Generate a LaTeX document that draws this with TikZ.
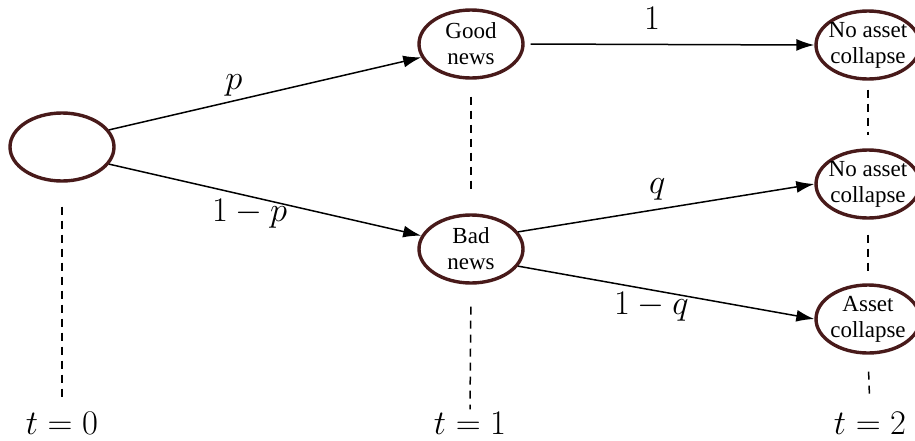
\documentclass[tikz,border=0pt]{standalone}
\usepackage{fontspec}
\newfontfamily\nodefont{Liberation Serif}
\usetikzlibrary{shapes.geometric,arrows.meta}
\definecolor{nodebrown}{RGB}{72,26,26}
\tikzset{
  state/.style={ellipse, draw=nodebrown, line width=1.7pt, minimum width=52pt, minimum height=34pt,
    inner xsep=-2pt, inner ysep=0pt, align=center, font=\nodefont\fontsize{11.5}{13}\selectfont},
  arr/.style={line width=0.75pt, -{Latex[length=9pt,width=6pt]}},
  dline/.style={line width=0.75pt, dash pattern=on 4pt off 3pt},
  lab/.style={font=\fontsize{16.5}{20}\selectfont, inner sep=0pt},
  tlab/.style={font=\fontsize{16.5}{20}\selectfont, inner sep=0pt, anchor=base}
}
\begin{document}
\begin{tikzpicture}[x=0.5pt, y=-0.5pt]
\useasboundingbox (0,0) rectangle (915,440);
\node[state] (root) at (62,147) {};
\node[state] (good) at (471,44) {Good\\news};
\node[state] (bad) at (471,249) {Bad\\news};
\node[state] (na1) at (868,45) {No asset\\collapse};
\node[state] (na2) at (868,184) {No asset\\collapse};
\node[state] (ac) at (868,319) {Asset\\collapse};
\node[tlab] (t0) at (62,434) {$t=0$};
\node[tlab] (t1) at (470,434) {$t=1$};
\node[tlab] (t2) at (870,434) {$t=2$};

\draw[arr] (root.20) -- (good.195) node[lab, pos=0.4, above=2pt] {$p$};
\draw[arr] (root.-20) -- (bad.165) node[lab, pos=0.45, below=1pt] {$1-p$};
\draw[arr, shorten <=3pt] (good.east) -- (na1.west) node[lab, pos=0.44, above=7pt] {$1$};
\draw[arr] (bad.20) -- (na2.west) node[lab, pos=0.47, above=4pt] {$q$};
\draw[arr] (bad.-20) -- (ac.west) node[lab, pos=0.45, below=1pt] {$1-q$};

\draw[dline, shorten <=12pt, shorten >=6.5pt] (root.south) -- (t0.north);
\draw[dline, shorten <=8.5pt, shorten >=11.5pt] (good.south) -- (bad.north);
\draw[dline, shorten <=11pt, shorten >=1pt] (bad.south) -- (t1.north);
\draw[dline, shorten <=4.5pt, shorten >=6.5pt] (na1.south) -- (na2.north);
\draw[dline, shorten <=7.5pt, shorten >=5pt] (na2.south) -- (ac.north);
\draw[dline, shorten <=8.5pt, shorten >=6.5pt] (ac.south) -- (t2.north);
\end{tikzpicture}
\end{document}
